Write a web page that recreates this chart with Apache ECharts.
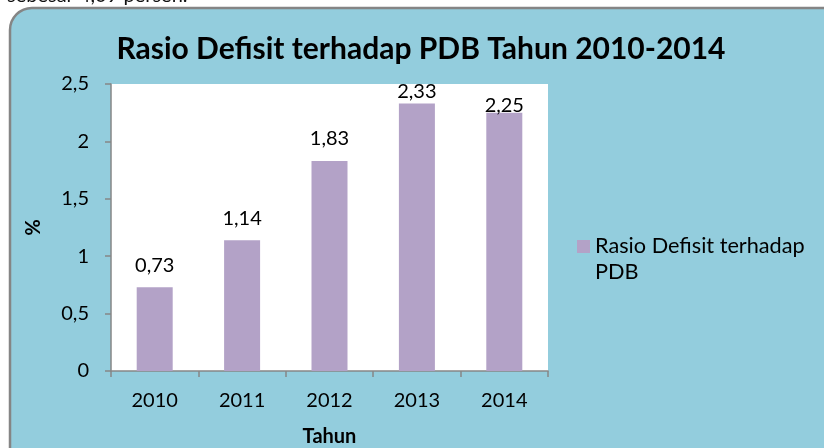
<!DOCTYPE html>
<html>
<head>
<meta charset="utf-8">
<script src="https://cdn.jsdelivr.net/npm/echarts@6/dist/echarts.min.js"></script>
<style>
  html, body { margin: 0; padding: 0; background: #fff; }
  #main { width: 824px; height: 448px; }
</style>
</head>
<body>
<div id="main"></div>
<script>
// data
var years = ['2010', '2011', '2012', '2013', '2014'];
var rasioDefisit = [0.73, 1.14, 1.83, 2.33, 2.25];
var seriesName = 'Rasio Defisit terhadap PDB';

var font = 'Lato, "Open Sans", sans-serif';
var fmt = function (v) { return String(v).replace('.', ','); };

// labels near the top of the plot are pushed down (as in the original)
var labelDist = { 3: 2, 4: -3 };
var barData = rasioDefisit.map(function (v, i) {
  var d = { value: v };
  if (labelDist[i] !== undefined) d.label = { distance: labelDist[i] };
  return d;
});

var myChart = echarts.init(document.getElementById('main'));
myChart.setOption({
  backgroundColor: '#fff',
  textStyle: { fontFamily: font },
  graphic: [
    {
      type: 'rect', z: -10,
      shape: { x: 10, y: 8, width: 840, height: 470, r: 22 },
      style: { fill: '#93cddd', stroke: '#858585', lineWidth: 2.5 }
    },
    {
      type: 'text', z: -5,
      style: { x: 7, y: 6, text: 'sebesar 4,09 persen.', verticalAlign: 'bottom', fontSize: 20, fill: '#111', fontFamily: font }
    }
  ],
  title: {
    text: 'Rasio Defisit terhadap PDB Tahun 2010-2014',
    left: 416, textAlign: 'center', top: 29,
    textStyle: { fontSize: 30, fontWeight: 'bold', color: '#000', fontFamily: font }
  },
  legend: {
    left: 572, top: 228,
    orient: 'vertical',
    itemWidth: 13, itemHeight: 52,
    // square aligned with the first text line
    icon: 'path://M0,0L0.01,0M0,7H13V20H0ZM0,52L0.01,52',
    formatter: function () { return 'Rasio Defisit terhadap\nPDB'; },
    textStyle: { fontSize: 21.7, color: '#000', lineHeight: 26, fontFamily: font },
    data: [seriesName]
  },
  grid: {
    left: 111, right: 276, top: 84, bottom: 77,
    outerBoundsMode: 'none',
    containLabel: false,
    show: true, backgroundColor: '#fff', borderWidth: 0
  },
  xAxis: {
    type: 'category',
    data: years,
    name: 'Tahun',
    nameLocation: 'middle',
    nameGap: 56,
    nameTextStyle: { fontSize: 20, fontWeight: 'bold', color: '#000' },
    axisLine: { lineStyle: { color: '#868686', width: 1.5 } },
    axisTick: { show: true, alignWithLabel: false, length: 6, lineStyle: { color: '#868686', width: 1.5 } },
    axisLabel: { fontSize: 20, color: '#000', margin: 20 }
  },
  yAxis: {
    type: 'value',
    min: 0, max: 2.5, interval: 0.5,
    name: '%',
    nameLocation: 'middle',
    nameGap: 70,
    nameRotate: -90,
    nameTextStyle: { fontSize: 20, fontWeight: 'bold', color: '#000' },
    axisLine: { show: true, lineStyle: { color: '#868686', width: 1.5 } },
    axisTick: { show: true, length: 6, lineStyle: { color: '#868686', width: 1.5 } },
    splitLine: { show: false },
    axisLabel: { fontSize: 20, color: '#000', margin: 22, formatter: fmt }
  },
  series: [
    {
      name: seriesName,
      type: 'bar',
      data: barData,
      barWidth: 36,
      itemStyle: { color: '#b3a2c7' },
      label: {
        show: true, position: 'top', distance: 12,
        fontSize: 20, color: '#000', fontFamily: font,
        formatter: function (p) { return fmt(p.value); }
      }
    }
  ]
});
</script>
</body>
</html>
